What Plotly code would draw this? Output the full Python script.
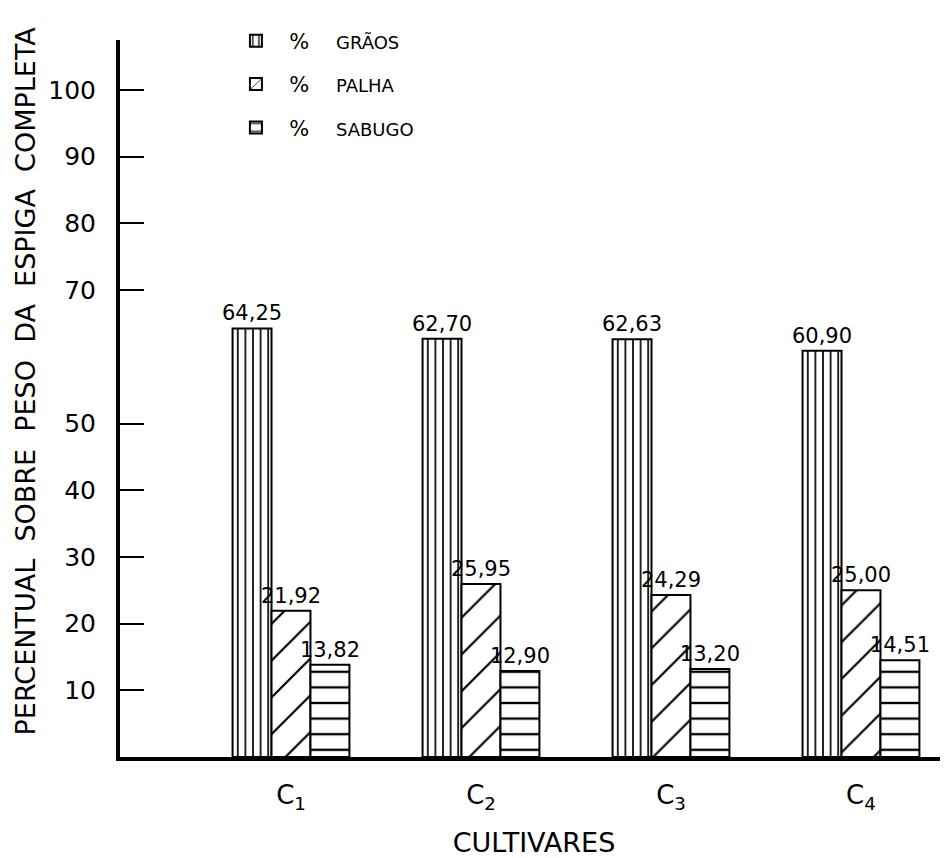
import plotly.graph_objects as go

# ---- data ----
categories = ["C<sub>1</sub>", "C<sub>2</sub>", "C<sub>3</sub>", "C<sub>4</sub>"]
graos = [64.25, 62.70, 62.63, 60.90]
palha = [21.92, 25.95, 24.29, 25.00]
sabugo = [13.82, 12.90, 13.20, 14.51]
series_labels = ["GRÃOS", "PALHA", "SABUGO"]
y_tick_values = [10, 20, 30, 40, 50, 70, 80, 90, 100]
y_tick_labels = ["10", "20", "30", "40", "50", "70", "80", "90", "100"]
y_title_words = ["PERCENTUAL", "SOBRE", "PESO", "DA", "ESPIGA", "COMPLETA"]

FONT = "DejaVu Sans"
NB = "&nbsp;"


def fmt(v):
    return f"{v:.2f}".replace(".", ",")


patterns = [
    dict(shape="|", size=7.6, solidity=0.22, fgcolor="black", fgopacity=1, bgcolor="white", fillmode="overlay"),
    dict(shape="/", size=26, solidity=0.085, fgcolor="black", fgopacity=1, bgcolor="white", fillmode="overlay"),
    dict(shape="-", size=15.6, solidity=0.15, fgcolor="black", fgopacity=1, bgcolor="white", fillmode="overlay"),
]

fig = go.Figure()
for i, (lab, vals, pat) in enumerate(zip(series_labels, [graos, palha, sabugo], patterns)):
    fig.add_trace(go.Bar(
        x=categories, y=vals,
        name=NB * 2 + "%" + NB * 4 + f"<span style='font-size:18px'>{lab}</span>",
        legendgroup=f"g{i}",
        text=[fmt(v) for v in vals],
        textposition="outside",
        textfont=dict(family=FONT, size=21, color="black"),
        constraintext="none",
        cliponaxis=False,
        marker=dict(color="white", line=dict(color="black", width=2), pattern=pat),
    ))

# page body adds an 8px offset, so the figure is 940x850 and margins are shifted accordingly
fig.update_layout(
    width=940, height=850,
    margin=dict(l=112, r=0, t=32, b=101, autoexpand=False),
    paper_bgcolor="white", plot_bgcolor="white",
    barmode="group", bargap=0.385, bargroupgap=0,
    font=dict(family=FONT, color="black"),
    showlegend=True,
    legend=dict(x=0.14, y=1.027, xanchor="left", yanchor="top",
                font=dict(family=FONT, size=21, color="black"),
                bgcolor="rgba(0,0,0,0)", traceorder="grouped",
                tracegroupgap=13),
)

fig.update_xaxes(
    range=[-0.9, 3.458], automargin=False,
    showline=True, linewidth=4, linecolor="black",
    showgrid=False, zeroline=False, ticks="",
    tickfont=dict(family=FONT, size=26, color="black"),
    ticklabelstandoff=12,
    title=dict(text="CULTIVARES", font=dict(family=FONT, size=27, color="black"), standoff=22),
)
fig.update_yaxes(
    range=[0, 107.5], automargin=False,
    showline=True, linewidth=4, linecolor="black",
    showgrid=False, zeroline=False,
    ticks="inside", ticklen=24, tickwidth=2, tickcolor="black",
    tickvals=y_tick_values, ticktext=y_tick_labels,
    tickfont=dict(family=FONT, size=25, color="black"),
    ticklabelstandoff=15,
    title=dict(text=NB * 4 + (NB * 2).join(y_title_words),
               font=dict(family=FONT, size=27, color="black"), standoff=6),
)

fig.write_html("out.html")
